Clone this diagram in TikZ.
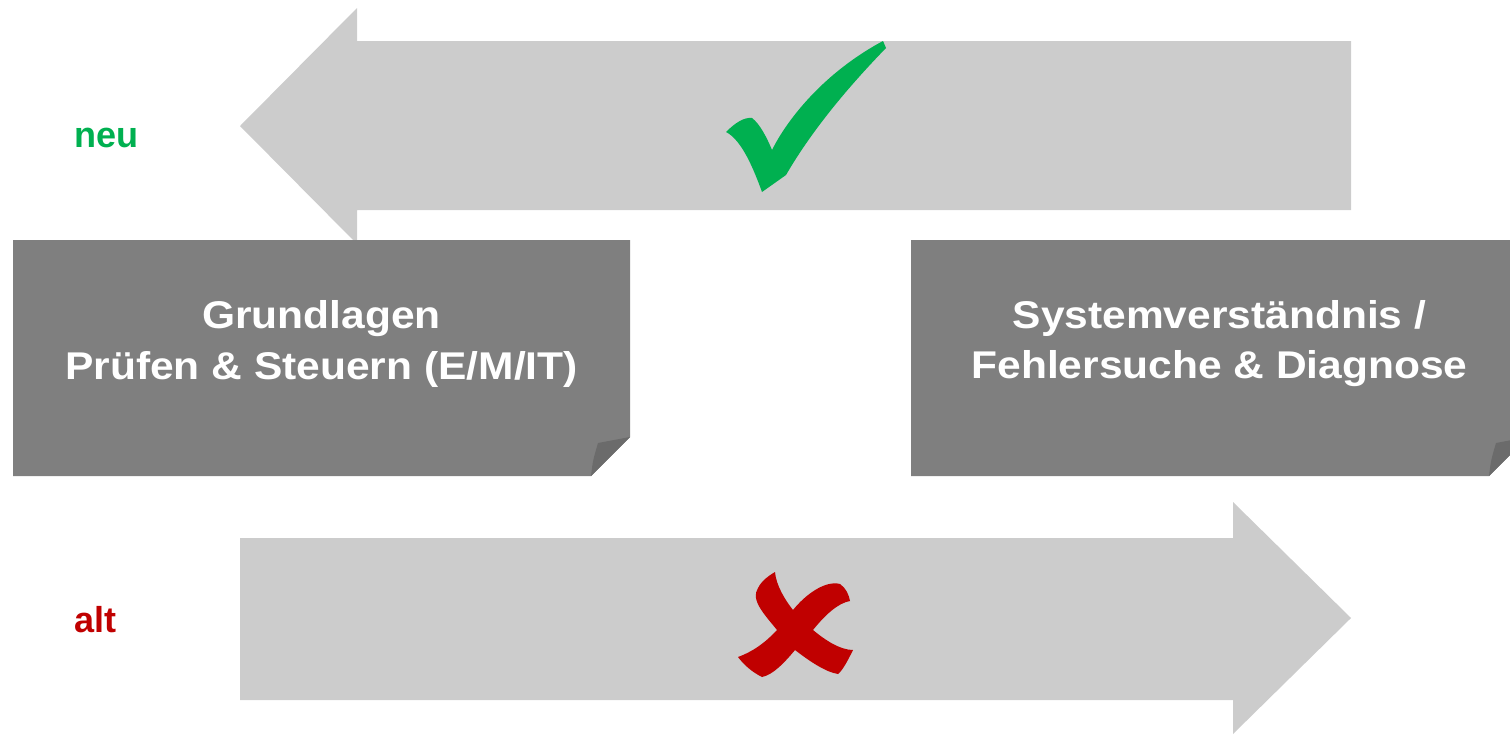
\documentclass[tikz,border=0pt]{standalone}
\usepackage{fontspec}
\setmainfont{Liberation Sans}
\usetikzlibrary{positioning}
\definecolor{arrowgray}{HTML}{CCCCCC}
\definecolor{boxgray}{HTML}{7F7F7F}
\definecolor{foldgray}{HTML}{6B6B6B}
\definecolor{neugreen}{HTML}{00B050}
\definecolor{altred}{HTML}{C00000}

\begin{document}
\begin{tikzpicture}[x=0.02cm,y=-0.02cm,
   tag/.style={font=\fontsize{20.5}{24}\selectfont\bfseries,inner sep=0,anchor=base west},
   title/.style={font=\fontsize{22}{28.5}\selectfont\bfseries,text=white,align=center,
      inner sep=0,transform shape,xscale=1.1}]
   \useasboundingbox (0,0) rectangle (1510,734);
   \clip (0,0) rectangle (1510,734);
   % arrows
   \fill[arrowgray] (240,126) -- (357,8) -- (357,41) -- (1351,41) -- (1351,210)
      -- (357,210) -- (357,244) -- cycle;
   \fill[arrowgray] (240,538) -- (1233,538) -- (1233,502) -- (1351,618)
      -- (1233,734) -- (1233,700) -- (240,700) -- cycle;
   % boxes with folded corner
   \fill[boxgray] (13,240) -- (630,240) -- (630,437) -- (591,476) -- (13,476) -- cycle;
   \fill[foldgray] (591,476) .. controls (593,460) .. (598,443) -- (630,437) -- cycle;
   \fill[boxgray] (911,240) -- (1528,240) -- (1528,437) -- (1489,476) -- (911,476) -- cycle;
   \fill[foldgray] (1489,476) .. controls (1491,460) .. (1496,443) -- (1528,437) -- cycle;
   % check mark
   \fill[neugreen] (726,132) .. controls (735,123) and (744,117) .. (752,118)
      .. controls (760,124) and (767,138) .. (772,150)
      .. controls (788,118) and (825,72) .. (883,41) -- (886,48)
      .. controls (855,80) and (815,125) .. (786,175) -- (762,192)
      .. controls (754,170) and (742,140) .. (726,132) -- cycle;
   % cross
   \fill[altred] (777,630) .. controls (765,615) and (750,600) .. (758,588)
      .. controls (762,580) and (770,575) .. (775,572)
      .. controls (776,585) and (785,600) .. (793,610)
      .. controls (805,595) and (825,580) .. (840,584)
      .. controls (846,588) and (849,595) .. (850,601)
      .. controls (838,603) and (825,615) .. (813,630)
      .. controls (825,640) and (840,650) .. (853,650)
      .. controls (848,660) and (843,670) .. (838,674)
      .. controls (825,672) and (808,660) .. (795,650)
      .. controls (785,662) and (773,675) .. (762,677)
      .. controls (752,672) and (744,665) .. (738,657)
      .. controls (752,652) and (765,643) .. (777,630) -- cycle;
   % texts
   \node[tag,text=neugreen] (neu) at (74,147) {neu};
   \node[tag,text=altred] (alt) at (74,632) {alt};
   \node[title] (grund) at (321.5,344) {Grundlagen\\Prüfen \& Steuern (E/M/IT)};
   \node[title] (system) at (1219.5,344) {Systemverständnis /\\Fehlersuche \& Diagnose};
\end{tikzpicture}
\end{document}
